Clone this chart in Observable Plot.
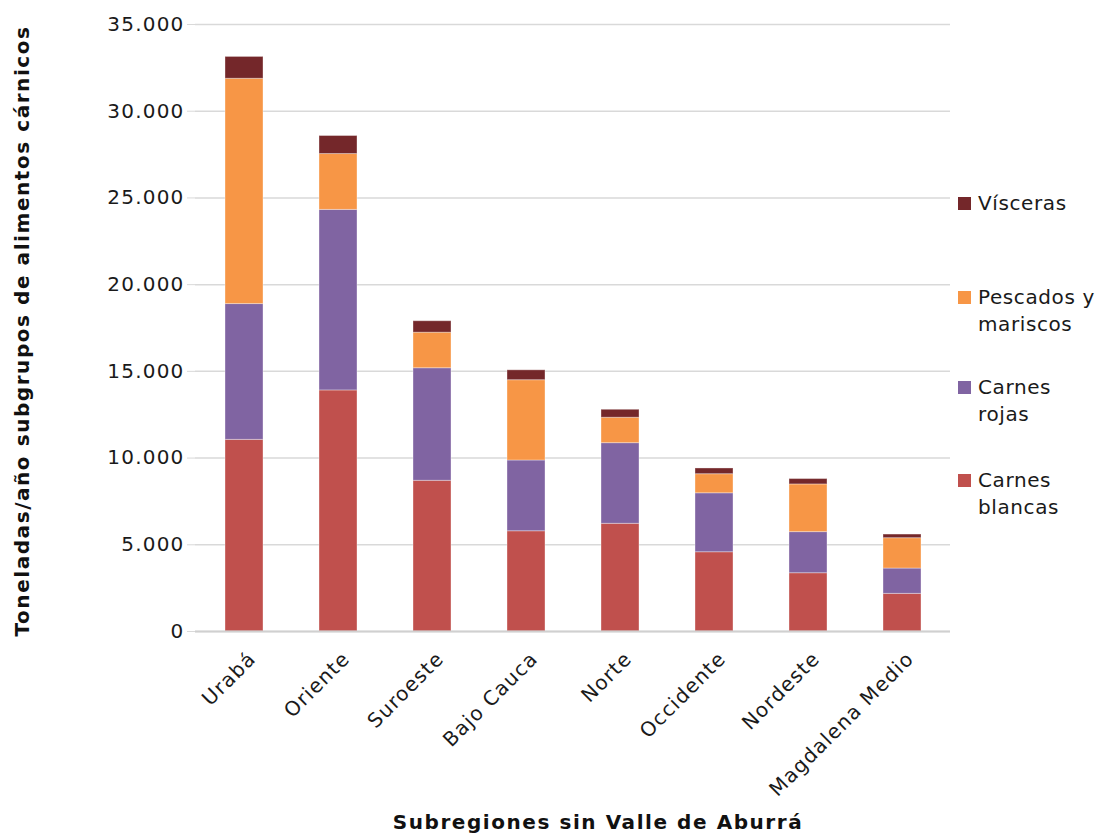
<!DOCTYPE html>
<html>
<head>
<meta charset="utf-8">
<script src="https://cdn.jsdelivr.net/npm/d3@7"></script>
<script src="https://cdn.jsdelivr.net/npm/@observablehq/plot@0.6"></script>
<style>
  body { margin: 0; background: #fff; }
  #wrap { position: relative; width: 1104px; height: 838px; font-family: "DejaVu Sans", sans-serif; color: #1a1a1a; }
  #wrap svg { position: absolute; left: 0; top: 0; }
  .titulo { position: absolute; font-weight: 700; font-size: 20px; white-space: nowrap; letter-spacing: 0.078em; color: #111; }
  #tituloX { left: 598px; top: 810px; transform: translateX(-50%); }
  #tituloY { left: 22px; top: 331px; transform: translate(-50%, -50%) rotate(-90deg); }
  #leyenda { position: absolute; left: 958px; top: 0; font-size: 20px; letter-spacing: 0.03em; }
  .item { position: absolute; left: 0; display: flex; align-items: flex-start; line-height: 27px; white-space: nowrap; }
  .sw { width: 13px; height: 13px; margin: 7px 7px 0 0; flex: none; }
</style>
</head>
<body>
<div id="wrap">
  <div id="tituloY" class="titulo">Toneladas/año subgrupos de alimentos cárnicos</div>
  <div id="tituloX" class="titulo">Subregiones sin Valle de Aburrá</div>
  <div id="leyenda"></div>
</div>
<script>
// Subregiones de Antioquia (sin Valle de Aburrá)
const subregiones = ["Urabá", "Oriente", "Suroeste", "Bajo Cauca", "Norte", "Occidente", "Nordeste", "Magdalena Medio"];

// Toneladas/año por subgrupo de alimentos cárnicos
const carnesBlancas     = [11050, 13900, 8690, 5780, 6210, 4570, 3360, 2170];
const carnesRojas       = [ 7830, 10410, 6490, 4080, 4650, 3400, 2370, 1460];
const pescadosMariscos  = [12990,  3220, 2050, 4630, 1465, 1100, 2750, 1750];
const visceras          = [ 1260,  1040,  660,  570,  460,  330,  310,  210];

const grupos  = ["Carnes blancas", "Carnes rojas", "Pescados y mariscos", "Vísceras"];
const valores = [carnesBlancas, carnesRojas, pescadosMariscos, visceras];
const colores = ["#c0504d", "#8064a2", "#f79646", "#74272a"];
const yTicks  = [0, 5000, 10000, 15000, 20000, 25000, 30000, 35000];

const filas = subregiones.flatMap((s, i) =>
  grupos.map((g, j) => ({ subregion: s, grupo: g, valor: valores[j][i] }))
);

const miles = d => d3.format(",")(d).replace(/,/g, ".");

const chart = Plot.plot({
  width: 1104,
  height: 838,
  marginTop: 24,
  marginBottom: 207,
  marginLeft: 195,
  marginRight: 154,
  style: { fontFamily: "'DejaVu Sans', sans-serif", fontSize: "20px", color: "#1a1a1a", letterSpacing: "0.06em" },
  x: { domain: subregiones, paddingInner: 0.6, paddingOuter: 0.3, label: null },
  y: { domain: [0, 35000], label: null },
  color: { domain: grupos, range: colores },
  marks: [
    Plot.gridY(yTicks, { stroke: "#d9d9d9", strokeOpacity: 1, strokeWidth: 1.5 }),
    Plot.barY(filas, {
      x: "subregion", y: "valor", fill: "grupo", order: grupos,
      stroke: "#ffffff", strokeOpacity: 0.35, strokeWidth: 1
    }),
    Plot.ruleY([0], { stroke: "#d0d0d0", strokeWidth: 2 }),
    Plot.axisY(yTicks, {
      tickFormat: miles, tickSize: 8, tickPadding: 3,
      stroke: "#d9d9d9", fontSize: 20, label: null
    }),
    Plot.axisX({
      tickRotate: -45, tickSize: 0, tickPadding: 24, dx: 8,
      fontSize: 20, label: null
    })
  ]
});

const wrap = document.getElementById("wrap");
wrap.insertBefore(chart, wrap.firstChild);

// Leyenda, de arriba hacia abajo en orden inverso de apilado
const leyendaTop = { "Vísceras": 190, "Pescados y mariscos": 284, "Carnes rojas": 374, "Carnes blancas": 467 };
const leyendaTexto = {
  "Vísceras": "Vísceras",
  "Pescados y mariscos": "Pescados y<br>mariscos",
  "Carnes rojas": "Carnes<br>rojas",
  "Carnes blancas": "Carnes<br>blancas"
};
const leyenda = document.getElementById("leyenda");
grupos.slice().reverse().forEach(g => {
  const item = document.createElement("div");
  item.className = "item";
  item.style.top = leyendaTop[g] + "px";
  item.innerHTML = `<span class="sw" style="background:${colores[grupos.indexOf(g)]}"></span><span>${leyendaTexto[g]}</span>`;
  leyenda.appendChild(item);
});
</script>
</body>
</html>
